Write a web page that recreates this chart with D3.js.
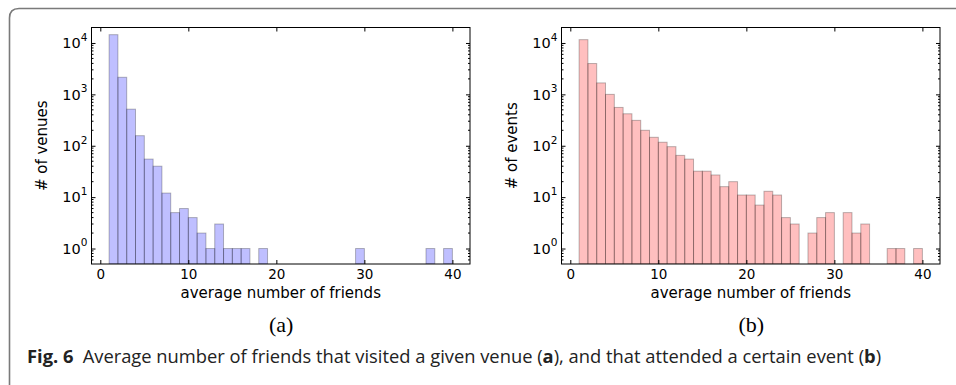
<!DOCTYPE html>
<html>
<head>
<meta charset="utf-8">
<script src="https://cdn.jsdelivr.net/npm/d3@7"></script>
<style>
  html, body { margin: 0; padding: 0; background: #fff; }
  svg { display: block; }
</style>
</head>
<body>
<svg id="fig" width="956" height="385"></svg>
<script>
// Histogram bins: left edges of unit-width bins (average number of friends)
const binStarts = [1, 2, 3, 4, 5, 6, 7, 8, 9, 10, 11, 12, 13, 14, 15, 16, 17, 18, 19, 20,
                   21, 22, 23, 24, 25, 26, 27, 28, 29, 30, 31, 32, 33, 34, 35, 36, 37, 38, 39];

// Counts per bin: venues (panel a)
const venueCounts = [14500, 2150, 515, 157, 55, 40, 12, 5, 6, 4, 2, 1, 3, 1, 1, 1, 0, 1, 0, 0,
                     0, 0, 0, 0, 0, 0, 0, 0, 1, 0, 0, 0, 0, 0, 0, 0, 1, 0, 1];

// Counts per bin: events (panel b)
const eventCounts = [11600, 3980, 1670, 1000, 557, 419, 312, 200, 146, 117, 96, 65, 55, 32, 32, 27, 16, 20, 11, 11,
                     7, 13, 11, 4, 3, 0, 2, 4, 5, 0, 5, 2, 3, 0, 0, 1, 1, 0, 1];

const xTicks = [0, 10, 20, 30, 40];
const yTicks = [1, 10, 100, 1000, 10000];
const yExponents = ["0", "1", "2", "3", "4"];
const xDomain = [-1, 42];
const yDomain = [0.5, 20000];

const svg = d3.select("#fig");

// Page frame: rounded top-left corner, open on the right and bottom
svg.append("path")
  .attr("d", "M9.5,385 V18 Q9.5,8.5 19,8.5 H956")
  .attr("fill", "none")
  .attr("stroke", "#7a7a7a")
  .attr("stroke-width", 1.6);

function panel(opts) {
  const { left, right, top, bottom, counts, fill, ylabel, tag, id } = opts;
  const g = svg.append("g");
  const x = d3.scaleLinear().domain(xDomain).range([left, right]);
  const y = d3.scaleLog().domain(yDomain).range([bottom, top]);

  g.append("clipPath").attr("id", id)
    .append("rect").attr("x", left).attr("y", top)
    .attr("width", right - left).attr("height", bottom - top);

  const bins = binStarts.map((s, i) => ({ x0: s, x1: s + 1, v: counts[i] })).filter(d => d.v > 0);

  g.append("g").attr("clip-path", `url(#${id})`)
    .selectAll("rect").data(bins).join("rect")
    .attr("x", d => x(d.x0))
    .attr("width", d => x(d.x1) - x(d.x0))
    .attr("y", d => y(d.v))
    .attr("height", d => bottom - y(d.v))
    .attr("fill", fill)
    .attr("stroke", "rgba(0,0,0,0.27)")
    .attr("stroke-width", 1);

  const font = "DejaVu Sans, sans-serif";

  // Bottom axis with inward ticks
  const xb = g.append("g").attr("transform", `translate(0,${bottom})`)
    .call(d3.axisBottom(x).tickValues(xTicks).tickSize(-4).tickPadding(5).tickFormat(d3.format("d")));
  // Top axis ticks only
  const xt = g.append("g").attr("transform", `translate(0,${top})`)
    .call(d3.axisTop(x).tickValues(xTicks).tickSize(-4).tickFormat(""));
  // Left axis
  const yl = g.append("g").attr("transform", `translate(${left},0)`)
    .call(d3.axisLeft(y).tickValues(yTicks).tickSize(-4).tickPadding(5).tickFormat(""));
  // Right axis ticks only
  const yr = g.append("g").attr("transform", `translate(${right},0)`)
    .call(d3.axisRight(y).tickValues(yTicks).tickSize(-4).tickFormat(""));

  [xb, xt, yl, yr].forEach(a => {
    a.select(".domain").remove();
    a.selectAll("line").attr("stroke", "#000").attr("stroke-width", 1);
  });
  xb.selectAll("text").attr("font-family", font).attr("font-size", 13.5).attr("fill", "#000");

  // Log labels as 10 with superscript exponent
  yl.selectAll(".tick text").each(function (d, i) {
    const t = d3.select(this).attr("font-family", font).attr("font-size", 14.5).attr("fill", "#000")
      .attr("dy", "0.32em").attr("x", -4);
    t.text("");
    t.append("tspan").text("10");
    t.append("tspan").attr("font-size", 10.5).attr("dy", "-0.7em").text(yExponents[i]);
  });

  // Minor log ticks (2..9 within each decade)
  const minor = [];
  for (let e = -1; e <= 4; e++) for (let m = 2; m <= 9; m++) {
    const v = m * Math.pow(10, e);
    if (v > yDomain[0] && v < yDomain[1]) minor.push(v);
  }
  g.append("g").selectAll("line.minorL").data(minor).join("line")
    .attr("x1", left).attr("x2", left + 2)
    .attr("y1", d => y(d)).attr("y2", d => y(d))
    .attr("stroke", "#000");
  g.append("g").selectAll("line.minorR").data(minor).join("line")
    .attr("x1", right).attr("x2", right - 2)
    .attr("y1", d => y(d)).attr("y2", d => y(d))
    .attr("stroke", "#000");

  // Frame
  g.append("rect").attr("x", left).attr("y", top)
    .attr("width", right - left).attr("height", bottom - top)
    .attr("fill", "none").attr("stroke", "#000").attr("stroke-width", 1);

  // Axis titles
  g.append("text")
    .attr("x", (left + right) / 2).attr("y", bottom + 34)
    .attr("text-anchor", "middle").attr("font-family", font).attr("font-size", 15)
    .text("average number of friends");
  g.append("text")
    .attr("transform", `translate(${left - 44.5},${(top + bottom) / 2}) rotate(-90)`)
    .attr("text-anchor", "middle").attr("font-family", font).attr("font-size", 15)
    .text(ylabel);

  // Sub-figure tag
  g.append("text")
    .attr("x", (left + right) / 2 + 0.5).attr("y", 332)
    .attr("text-anchor", "middle").attr("font-family", "Liberation Serif, serif").attr("font-size", 22)
    .text(tag);
}

panel({ left: 91.5, right: 470, top: 27.5, bottom: 264, counts: venueCounts,
        fill: "rgba(0,0,255,0.25)", ylabel: "# of venues", tag: "(a)", id: "clipA" });
panel({ left: 561.5, right: 940, top: 27.5, bottom: 264, counts: eventCounts,
        fill: "rgba(255,0,0,0.25)", ylabel: "# of events", tag: "(b)", id: "clipB" });

// Caption
const cap = svg.append("text")
  .attr("x", 27).attr("y", 363)
  .attr("font-family", "Open Sans, sans-serif").attr("font-size", 15).attr("fill", "#222");
cap.append("tspan").attr("font-weight", "bold").text("Fig. 6");
cap.append("tspan").attr("xml:space", "preserve").text("\u2002Average number of friends that visited a given venue (");
cap.append("tspan").attr("font-weight", "bold").text("a");
cap.append("tspan").text("), and that attended a certain event (");
cap.append("tspan").attr("font-weight", "bold").text("b");
cap.append("tspan").text(")");
// Fit the caption line to its measured width
const w = cap.node().getComputedTextLength();
cap.attr("font-size", 15 * 855 / w);
</script>
</body>
</html>
